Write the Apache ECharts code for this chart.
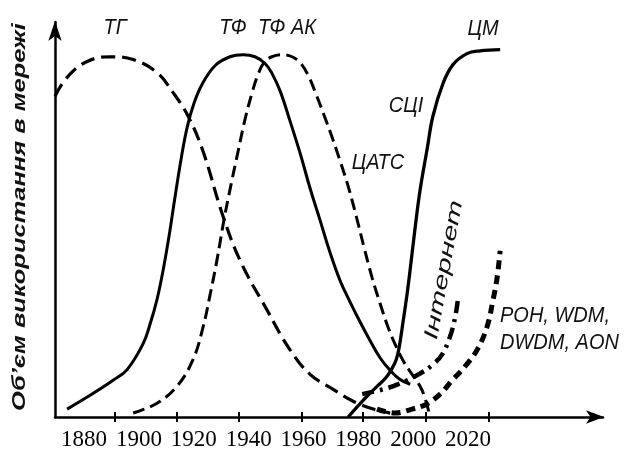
<!DOCTYPE html>
<html>
<head>
<meta charset="utf-8">
<script src="https://cdn.jsdelivr.net/npm/echarts@6/dist/echarts.min.js"></script>
<style>
html,body{margin:0;padding:0;background:#fff;}
#c{width:627px;height:451px;}
</style>
</head>
<body>
<div id="c"></div>
<script>
// Tick labels (years written under the axis) and tick-mark positions
const xLabelYears = [1880, 1900, 1920, 1940, 1960, 1980, 2000, 2020];
const xTickYears = [1891.3, 1913.9, 1936.5, 1959.5, 1981.7, 2004.7, 2027.7];

// ТГ (dashed)
const tgYears = [1869.4, 1873.8, 1881.1, 1889.5, 1897.9, 1906.6, 1912.4, 1917.9, 1923.4, 1930.3, 1936.9, 1946.7, 1955.1, 1962.4, 1970.8, 1978.1, 1985.4, 1991.6];
const tgVals  = [81.2, 86.0, 90.0, 91.2, 90.5, 87.2, 82.2, 76.2, 67.2, 51.6, 39.6, 27.1, 17.0, 10.8, 7.0, 4.0, 2.0, 1.0];

// ТФ (solid)
const tfYears = [1873.8, 1882.2, 1890.6, 1895.7, 1901.5, 1904.1, 1906.6, 1908.8, 1911.0, 1913.2, 1915.4, 1917.6, 1920.1, 1923.0, 1927.8, 1933.2, 1938.0, 1942.3, 1946.0, 1948.5, 1951.5, 1955.1, 1958.8, 1962.4, 1966.0, 1969.7, 1973.3, 1977.0, 1980.6, 1984.3, 1987.9, 1991.6, 1995.2, 1998.9];
const tfVals  = [2.0, 5.5, 9.3, 12.0, 18.5, 23.6, 29.8, 37.1, 45.9, 55.9, 65.4, 73.4, 79.5, 84.2, 89.0, 91.2, 91.7, 91.2, 89.5, 87.0, 82.5, 74.9, 66.7, 57.9, 49.9, 41.6, 34.6, 29.1, 24.1, 19.3, 15.0, 11.8, 9.5, 8.3];

// ТФ АК (dashed)
const akYears = [1897.9, 1906.6, 1913.9, 1919.7, 1923.4, 1925.9, 1928.5, 1931.0, 1933.6, 1936.2, 1938.7, 1941.3, 1943.4, 1945.6, 1948.5, 1952.6, 1955.8, 1958.8, 1961.7, 1964.6, 1967.5, 1970.4, 1973.3, 1976.3, 1979.2, 1982.1, 1985.0, 1987.9, 1990.8, 1993.8, 1996.7, 1999.6, 2002.5, 2004.3, 2005.8];
const akVals  = [1.0, 3.5, 7.8, 14.5, 22.8, 30.8, 39.9, 49.9, 58.9, 67.4, 75.4, 82.2, 86.7, 89.7, 91.2, 91.7, 91.2, 89.7, 86.5, 81.7, 76.4, 70.9, 64.9, 58.4, 50.9, 42.9, 35.3, 28.8, 22.8, 17.8, 13.8, 10.8, 7.8, 4.8, 1.0];

// ЦМ (solid)
const cmYears = [1976.3, 1979.9, 1983.5, 1987.2, 1990.1, 1992.3, 1993.8, 1994.8, 1996.3, 1997.8, 1999.2, 2000.7, 2002.5, 2005.1, 2007.2, 2010.9, 2014.5, 2019.6, 2024.4, 2031.7];
const cmVals  = [0, 2.8, 5.5, 8.0, 10.0, 12.3, 14.5, 17.3, 24.1, 31.3, 39.1, 47.9, 57.4, 67.9, 76.2, 84.5, 89.2, 92.0, 92.7, 93.0];

// Інтернет (dash-dot)
const inYears = [1981.4, 1989.0, 1995.2, 2002.5, 2007.2, 2010.5, 2013.4, 2015.3, 2016.4];
const inVals  = [5.8, 7.0, 8.5, 11.0, 13.3, 15.8, 20.3, 25.3, 30.3];

// PON, WDM, DWDM, AON (thick dashed)
const ponYears = [1986.8, 1993.4, 1999.6, 2005.0, 2009.8, 2014.5, 2018.9, 2023.3, 2026.9, 2029.1, 2030.6, 2031.7];
const ponVals  = [2.0, 1.0, 2.0, 3.3, 5.8, 9.5, 12.8, 17.0, 22.8, 29.6, 35.3, 42.1];

function zip(xs, ys) { return xs.map((x, i) => [x, ys[i]]); }

const chart = echarts.init(document.getElementById('c'), null, {renderer: 'canvas'});

function line(name, xs, ys, width, dash) {
  return {
    name: name, type: 'line', data: zip(xs, ys),
    showSymbol: false, smooth: 0.4, animation: false, silent: true,
    lineStyle: {color: '#000', width: width, type: dash || 'solid', cap: 'butt'}
  };
}

const labelFont = 'italic 20px "Liberation Sans", Arial, sans-serif';
function txt(text, x, y, extra) {
  return Object.assign({
    type: 'text', x: x, y: y, scaleY: 1.12, silent: true,
    style: {text: text, font: labelFont, fill: '#111', align: 'center', verticalAlign: 'middle', textAlign: 'center', textVerticalAlign: 'middle'}
  }, extra || {});
}

chart.setOption({
  animation: false,
  backgroundColor: '#fff',
  grid: {left: 55, right: 24, top: 22, bottom: 30, containLabel: false},
  xAxis: [{
    type: 'value', min: 1869.4, max: 2069.2, position: 'bottom',
    splitLine: {show: false},
    axisLine: {show: true, lineStyle: {color: '#000', width: 2.5}, symbol: ['none', 'arrow'], symbolSize: [10, 18], symbolOffset: [0, 1]},
    axisTick: {show: true, customValues: xTickYears, length: 5, lineStyle: {color: '#000', width: 2}},
    axisLabel: {
      customValues: xLabelYears, margin: 11,
      formatter: v => String(Math.round(v)),
      fontFamily: '"Liberation Serif", "Times New Roman", serif', fontSize: 23, color: '#000'
    }
  }, {
    type: 'value', min: 1869.4, max: 2069.2, position: 'bottom',
    splitLine: {show: false},
    axisLine: {show: false},
    axisTick: {show: true, inside: true, customValues: xTickYears, length: 5, lineStyle: {color: '#000', width: 2}},
    axisLabel: {show: false}
  }],
  yAxis: {
    type: 'value', min: 0, max: 100,
    splitLine: {show: false},
    axisLine: {show: true, lineStyle: {color: '#000', width: 2.5}, symbol: ['none', 'arrow'], symbolSize: [10, 20], symbolOffset: [0, 1]},
    axisTick: {show: false},
    axisLabel: {show: false}
  },
  series: [
    line('ТГ', tgYears, tgVals, 3.2, [14, 7]),
    line('ТФ', tfYears, tfVals, 3, 'solid'),
    line('ТФ АК', akYears, akVals, 3, [12, 6]),
    line('ЦМ', cmYears, cmVals, 3.3, 'solid'),
    line('Інтернет', inYears, inVals, 4.5, [12, 6, 3, 6]),
    line('PON', ponYears, ponVals, 5, [9, 6])
  ],
  graphic: [
    {
      type: 'text', x: 20, y: 217, rotation: Math.PI / 2, scaleX: 1.34, silent: true,
      style: {text: 'Об’єм використання в мережі', font: 'italic bold 19px "Liberation Sans", Arial, sans-serif', fill: '#111', align: 'center', verticalAlign: 'middle', textAlign: 'center', textVerticalAlign: 'middle'}
    },
    txt('ТГ', 115, 28),
    txt('ТФ', 233, 28),
    txt('ТФ АК', 287, 28),
    txt('ЦМ', 483, 29),
    txt('СЦІ', 406, 106),
    txt('ЦАТС', 378, 163),
    txt('Інтернет', 444, 270, {rotation: 1.39, scaleX: 1.5, scaleY: 1}),
    txt('POH, WDM,', 500, 316, {style: {text: 'POH, WDM,', font: labelFont, fill: '#111', align: 'left', verticalAlign: 'middle', textAlign: 'left', textVerticalAlign: 'middle'}}),
    txt('DWDM, AON', 500, 343, {style: {text: 'DWDM, AON', font: labelFont, fill: '#111', align: 'left', verticalAlign: 'middle', textAlign: 'left', textVerticalAlign: 'middle'}})
  ]
});
</script>
</body>
</html>
